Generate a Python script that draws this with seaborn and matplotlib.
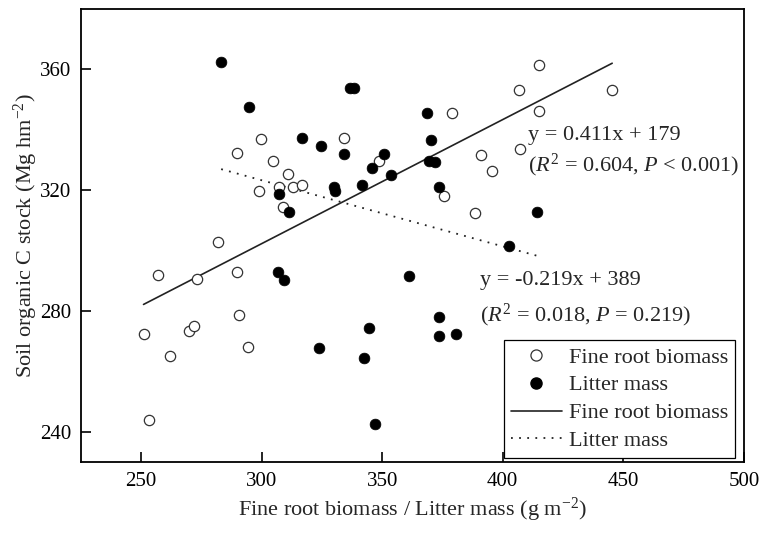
import numpy as np
import pandas as pd
import matplotlib
matplotlib.use('Agg')
import matplotlib.pyplot as plt
from matplotlib.lines import Line2D
import seaborn as sns

# Fine root biomass (open circles)
root_x = [257, 273, 251, 270, 272, 262, 253.4, 282, 289.6, 290.6, 294.3,
          299.6, 289.6, 334.3, 304.8, 310.9, 299, 307.3, 312.9, 316.7, 308.7,
          348.6, 379.1, 391, 375.5, 388.5, 414.9, 406.6, 445.4, 414.9, 407, 395.7]
root_y = [292, 290.6, 272.5, 273.2, 275, 265.2, 244, 303, 293, 278.5, 268,
          336.8, 332.2, 337.3, 329.7, 325.4, 319.8, 321.2, 321.2, 321.7, 314.6,
          329.6, 345.5, 331.5, 318.2, 312.3, 361.5, 353.1, 353.1, 346.4, 333.5, 326.3]

# Litter mass (filled circles)
litter_x = [283.2, 294.6, 316.6, 324.7, 334, 307.3, 311.2, 330, 330.6, 336.5,
            368.7, 370.3, 350.8, 345.8, 369.5, 372, 353.7, 341.7, 373.5, 306.9,
            309.1, 323.6, 361.2, 373.7, 344.4, 373.5, 380.7, 342.3, 347.1, 402.6,
            414.4, 338.5]
litter_y = [362.5, 347.5, 337.4, 334.5, 332.1, 318.7, 312.7, 321, 319.8, 354,
            345.5, 336.6, 332.1, 327.3, 329.8, 329.5, 325.2, 321.8, 321, 293,
            290.4, 267.7, 291.5, 278.1, 274.3, 271.7, 272.5, 264.5, 242.7, 301.5,
            312.8, 354]

# fitted regressions (slope, intercept)
root_fit = [0.411, 179]
litter_fit = [-0.219, 389]

sns.set_theme(style='ticks')
plt.rcParams['font.family'] = ['Liberation Serif', 'DejaVu Serif']
plt.rcParams['mathtext.fontset'] = 'custom'
plt.rcParams['mathtext.rm'] = 'Liberation Serif'
plt.rcParams['mathtext.it'] = 'Liberation Serif:italic'

fig = plt.figure(figsize=(7.7, 5.34), dpi=100)
ax = fig.add_axes([0.105, 0.135, 0.861, 0.848])

sns.scatterplot(x=root_x, y=root_y, ax=ax, color='white', edgecolor='#333333',
                linewidth=0.9, s=55, marker='o', zorder=3)
sns.scatterplot(x=litter_x, y=litter_y, ax=ax, color='black', edgecolor='black',
                linewidth=0.5, s=60, marker='o', zorder=3)

# regression lines over each data range
rx = np.array([min(root_x), max(root_x)])
root_line = pd.DataFrame({'x': rx, 'y': root_fit[0] * rx + root_fit[1]})
lx = np.array([min(litter_x), max(litter_x)])
litter_line = pd.DataFrame({'x': lx, 'y': litter_fit[0] * lx + litter_fit[1]})
sns.lineplot(data=root_line, x='x', y='y', ax=ax, color='#222222', lw=1.2)
sns.lineplot(data=litter_line, x='x', y='y', ax=ax, color='#222222', lw=1.3,
             linestyle=(0, (1, 3.5)))

ax.text(410.4, 338.2, 'y = 0.411x + 179', fontsize=16, va='center', ha='left')
ax.text(410.6, 328.3, r'($R^2$ = 0.604, $P$ < 0.001)', fontsize=16, va='center', ha='left')
ax.text(390.4, 290.2, 'y = -0.219x + 389', fontsize=16, va='center', ha='left')
ax.text(390.4, 278.7, r'($R^2$ = 0.018, $P$ = 0.219)', fontsize=16, va='center', ha='left')

ax.set_xlim(225, 500)
ax.set_ylim(230, 380)
ax.set_xticks([250, 300, 350, 400, 450, 500])
ax.set_yticks([240, 280, 320, 360])
ax.tick_params(direction='in', length=7, width=1.2, labelsize=15, pad=7,
               top=False, right=False, colors='black')
for sp in ax.spines.values():
    sp.set_linewidth(1.3)
    sp.set_color('black')

ax.set_xlabel(r'Fine root biomass / Litter mass (g m$^{-2}$)', fontsize=16, labelpad=4)
ax.set_ylabel(r'Soil organic C stock (Mg hm$^{-2}$)', fontsize=16, labelpad=0)

handles = [
    Line2D([], [], marker='o', color='white', markeredgecolor='#333333',
           markersize=8, linestyle='none', markeredgewidth=0.9),
    Line2D([], [], marker='o', color='black', markersize=8, linestyle='none'),
    Line2D([], [], color='#222222', lw=1.2),
    Line2D([], [], color='#222222', lw=1.3, linestyle=(0, (1, 3.5))),
]
labels = ['Fine root biomass', 'Litter mass', 'Fine root biomass', 'Litter mass']
leg = ax.legend(handles, labels, loc='lower right', bbox_to_anchor=(0.986, 0.009),
                fontsize=16, frameon=True, fancybox=False, framealpha=1,
                edgecolor='black', handlelength=2.3, handletextpad=0.3,
                labelspacing=0.33, borderpad=0.3, borderaxespad=0)
leg.get_frame().set_linewidth(0.9)

plt.savefig('out.png', dpi=100)
plt.close()
